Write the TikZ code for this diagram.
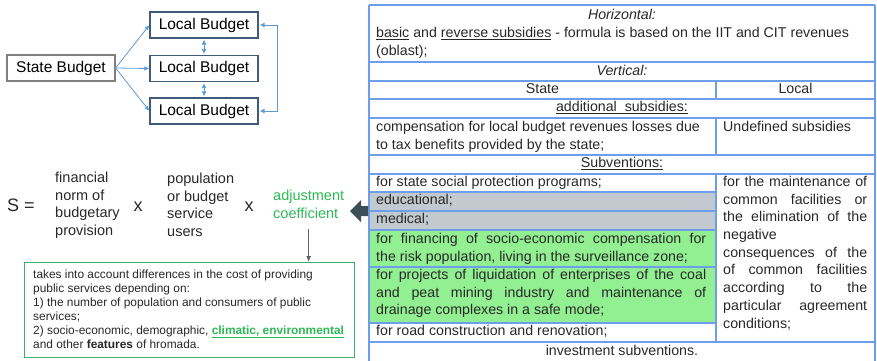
\documentclass[tikz,border=0pt]{standalone}
\usepackage{fontspec}
\setmainfont{Liberation Sans}
\usetikzlibrary{arrows.meta}
\definecolor{tblue}{RGB}{108,158,235}
\definecolor{tgray}{RGB}{195,202,207}
\definecolor{tgreen}{RGB}{146,240,146}
\definecolor{txt}{RGB}{40,40,40}
\definecolor{abl}{RGB}{91,155,213}
\definecolor{bbord}{RGB}{62,92,122}
\definecolor{sbord}{RGB}{128,128,128}
\definecolor{gtext}{RGB}{45,185,85}
\definecolor{gbord}{RGB}{60,175,105}
\definecolor{darr}{RGB}{60,78,88}
\definecolor{garr}{RGB}{90,100,110}
\newcommand{\jl}[2]{\makebox[#1][s]{#2}}
\begin{document}
\begin{tikzpicture}[x=1pt,y=-1pt,
  every node/.style={text=txt, inner sep=0pt},
  tline/.style={draw=tblue, line width=1.3pt},
  tf/.style={font=\fontsize{14.2}{17.7}\selectfont},
  ff/.style={font=\fontsize{14.5}{17.6}\selectfont, align=left, anchor=north west},
  bigf/.style={font=\fontsize{18}{20}\selectfont, anchor=base},
  bbox/.style={draw=bbord, line width=1.2pt, minimum width=108pt, minimum height=26pt, font=\fontsize{15.5}{18}\selectfont, text=black},
  barr/.style={draw=abl, line width=0.8pt, -{Latex[length=5pt,width=4.5pt]}},
  dbarr/.style={draw=abl, line width=0.8pt, {Latex[length=5pt,width=5pt]}-{Latex[length=5pt,width=5pt]}},
  ]
\useasboundingbox (0,0) rectangle (877,360);
\clip (0,0) rectangle (877,360);

% ---------- left budget diagram ----------
\node[bbox, draw=sbord] (sb) at (61,68) {State Budget};
\node[bbox] (lb1) at (204,25) {Local Budget};
\node[bbox] (lb2) at (204,68.5) {Local Budget};
\node[bbox] (lb3) at (204,111) {Local Budget};
\draw[barr] (sb.east) -- (lb1.west);
\draw[barr] (sb.east) -- (lb2.west);
\draw[barr] (sb.east) -- (lb3.west);
\draw[dbarr] ([yshift=-1pt]lb1.south) -- ([yshift=1pt]lb2.north);
\draw[dbarr] ([yshift=-1pt]lb2.south) -- ([yshift=1pt]lb3.north);
\draw[dbarr] ([xshift=1pt]lb1.east) -- ++(18,0) |- ([xshift=1pt]lb3.east);

% ---------- table fills ----------
\fill[tgray] (369,192) rectangle (716,230);
\fill[tgreen] (369,230) rectangle (716,323);

% ---------- table lines ----------
\foreach \yy in {5,62,81,99,118,155,174,342,362}
  \draw[tline] (369,\yy) -- (875,\yy);
\foreach \yy in {192,211,230,267,323}
  \draw[tline] (369,\yy) -- (716,\yy);
\draw[tline] (369,5) -- (369,362);
\draw[tline] (875,5) -- (875,362);
\draw[tline] (716,81) -- (716,99);
\draw[tline] (716,118) -- (716,155);
\draw[tline] (716,174) -- (716,342);

% ---------- table texts ----------
\node[tf, anchor=base] (hz) at (622,19.7) {\itshape Horizontal:};
\node[tf, anchor=north west, align=left] (hzb) at (376,27)
  {\underline{basic} and \underline{reverse subsidies} - formula is based on the IIT and CIT revenues\\(oblast);};
\node[tf, anchor=base] (vt) at (622,75.7) {\itshape Vertical:};
\node[tf, anchor=base] (st) at (542.5,93.7) {State};
\node[tf, anchor=base] (lc) at (795.5,93.7) {Local};
\node[tf, anchor=base] (ad) at (622,111.7) {\underline{additional\ \ subsidies:}};
\node[tf, anchor=north west, align=left] (cp) at (376,121)
  {compensation for local budget revenues losses due\\to tax benefits provided by the state;};
\node[tf, anchor=base west] (ud) at (723,131.7) {Undefined subsidies};
\node[tf, anchor=base] (sv) at (622,167.7) {\underline{Subventions:}};
\node[tf, anchor=base west] (sp) at (376,186.7) {for state social protection programs;};
\node[tf, anchor=base west] (ed) at (376,204.7) {educational;};
\node[tf, anchor=base west] (md) at (376,223.7) {medical;};
\node[tf, anchor=north west, align=left] (fn) at (376,233)
  {\jl{330pt}{for financing of socio-economic compensation for}\\the risk population, living in the surveillance zone;};
\node[tf, anchor=north west, align=left] (pj) at (376,269)
  {\jl{330pt}{for projects of liquidation of enterprises of the coal}\\\jl{330pt}{and peat mining industry and maintenance of}\\drainage complexes in a safe mode;};
\node[tf, anchor=base west] (rd) at (376,335.7) {for road construction and renovation;};
\node[tf, anchor=base] (iv) at (622,355.7) {investment subventions.};
\node[tf, anchor=north west, align=left] (mt) at (723,176)
  {\jl{144pt}{for the maintenance of}\\\jl{144pt}{common facilities or}\\\jl{144pt}{the elimination of the}\\negative\\\jl{144pt}{consequences of the}\\\jl{144pt}{of common facilities}\\\jl{144pt}{according to the}\\\jl{144pt}{particular agreement}\\conditions;};

% ---------- formula ----------
\node[bigf] (S) at (21,211.7) {S =};
\node[ff] (fin) at (55,172) {financial\\norm of\\budgetary\\provision};
\node[bigf] (x1) at (138,211.7) {x};
\node[ff] (pop) at (167,173) {population\\or budget\\service\\users};
\node[bigf] (x2) at (249,211.7) {x};
\node[ff, text=gtext] (adj) at (273,190) {adjustment\\coefficient};

% thick arrow from table to coefficient
\fill[darr] (350,211) -- (361,200) -- (361,206) -- (368,206) -- (368,216) -- (361,216) -- (361,222) -- cycle;

% ---------- green box ----------
\node[draw=gbord, line width=1pt, minimum width=330pt, minimum height=95pt, anchor=north west] (gbox) at (24,262) {};
\node[anchor=north west, align=left, font=\fontsize{11.9}{14}\selectfont] (gtx) at (33,269.4)
  {takes into account differences in the cost of providing\\public services depending on:\\1) the number of population and consumers of public\\services;\\2) socio-economic, demographic, \textcolor{gtext}{\underline{\textbf{climatic, environmental}}}\\and other \textbf{features} of hromada.};
\draw[draw=garr, line width=0.9pt, -{Latex[length=6pt,width=5pt]}] ([yshift=-10pt]adj.south) -- (adj.south |- gbox.north);
\end{tikzpicture}
\end{document}
